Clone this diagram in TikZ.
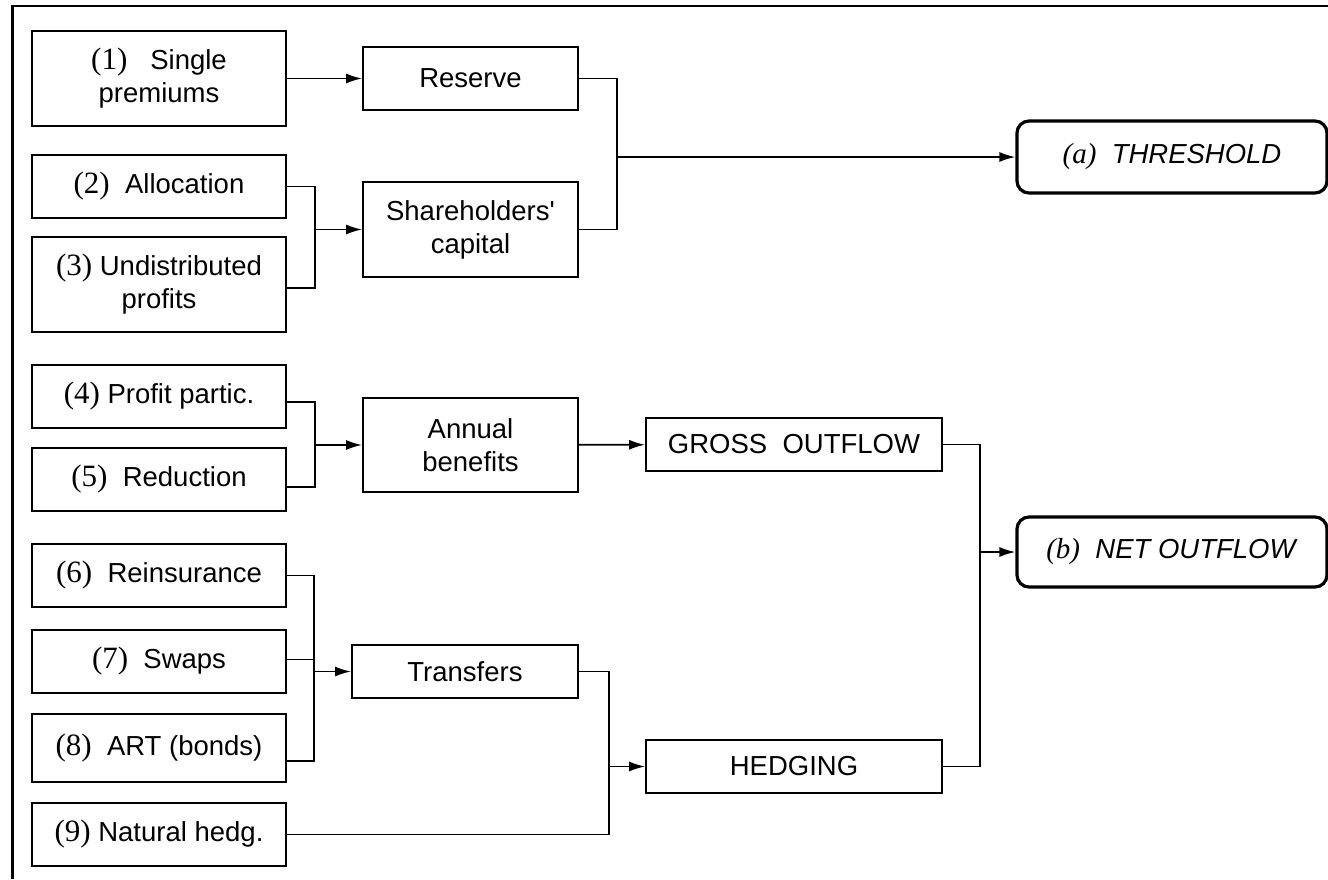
\documentclass[tikz,border=0pt]{standalone}
\usepackage{fontspec}
\setmainfont{Liberation Serif}
\setsansfont{Liberation Sans}
\usepackage{tikz}
\usetikzlibrary{arrows.meta,positioning,calc}
\newcommand{\itm}[1]{{\rmfamily\fontsize{15.5}{16.5}\selectfont(#1)}}
\tikzset{
  srcbox/.style={draw, line width=0.9pt, minimum width=127pt, align=center, inner sep=0pt}, % input boxes
  midbox/.style={draw, line width=0.9pt, minimum width=107.5pt, align=center, inner sep=0pt},
  flowbox/.style={draw, line width=0.9pt, minimum width=148pt, minimum height=26.5pt, inner sep=0pt},
  resbox/.style={draw, line width=1.6pt, rounded corners=6pt, minimum width=155pt, inner sep=0pt},
  link/.style={line width=0.85pt},
  arr/.style={link, -{Latex[length=8pt,width=5pt]}}
}
\begin{document}
\begin{tikzpicture}[x=0.5pt, y=-0.5pt, font=\sffamily\fontsize{13.75}{16.5}\selectfont]
        \useasboundingbox (0,0) rectangle (1328,879);

        % Frame
        \draw[line width=1.2pt] (1328,6) -- (12.5,6) -- (12.5,879);

        % Inputs
        \node[srcbox, minimum height=47.5pt] (single) at (159,78.5) {\itm{1}\ \ \ Single\\premiums};
        \node[srcbox, minimum height=31.5pt] (alloc) at (159,186.5) {\itm{2}\ \ Allocation};
        \node[srcbox, minimum height=47.5pt] (undist) at (159,284.5) {\itm{3} Undistributed\\profits};
        \node[srcbox, minimum height=31.5pt] (partic) at (159,396.5) {\itm{4} Profit partic.};
        \node[srcbox, minimum height=31.5pt] (reduct) at (159,479.5) {\itm{5}\ \ Reduction};
        \node[srcbox, minimum height=31.5pt] (reins) at (159,575.5) {\itm{6}\ \ Reinsurance};
        \node[srcbox, minimum height=31.5pt] (swaps) at (159,661.5) {\itm{7}\ \ Swaps};
        \node[srcbox, minimum height=34pt] (art) at (159,748) {\itm{8}\ \ ART (bonds)};
        \node[srcbox, minimum height=31.5pt] (natural) at (159,834.5) {\itm{9} Natural hedg.};

        % Intermediate boxes
        \node[midbox, minimum height=31.5pt] (reserve) at (470.5,78.5) {Reserve};
        \node[midbox, minimum height=47.5pt] (capital) at (470.5,229.5) {Shareholders\textquotesingle\\capital};
        \node[midbox, minimum height=47pt] (annual) at (470.5,445) {Annual\\benefits};
        \node[midbox, minimum width=113pt, minimum height=26.5pt] (transfers) at (465,671.5) {Transfers};
        \node[flowbox] (gross) at (794,444.5) {GROSS\ \ OUTFLOW};
        \node[flowbox] (hedging) at (794,766.5) {HEDGING};

        % Results
        \node[resbox, minimum height=36pt] (thresh) at (1172,157) {{\rmfamily\itshape\fontsize{14.5}{16.5}\selectfont(a)}\ \ \textit{THRESHOLD}};
        \node[resbox, minimum height=35pt] (net) at (1172,552) {{\rmfamily\itshape\fontsize{14.5}{16.5}\selectfont(b)}\ \ \textit{NET OUTFLOW}};

        % Junctions
        \coordinate (j1) at (315,229.5);
        \coordinate (j2) at (617,157);
        \coordinate (j3) at (315,445);
        \coordinate (j4) at (980,552);
        \coordinate (j5) at (314,671.5);
        \coordinate (j6) at (609,766.5);

        % Connectors
        \draw[arr] (single) -- (reserve);
        \draw[link] (alloc.east) -| (j1) |- ([yshift=-1.8pt]undist.east);
        \draw[arr] (j1) -- (capital);
        \draw[link] (reserve.east) -| (j2) |- (capital.east);
        \draw[arr] (j2) -- (thresh);
        \draw[link] ([yshift=-2.7pt]partic.east) -| (j3) |- ([yshift=-3.7pt]reduct.east);
        \draw[arr] (j3) -- (annual);
        \draw[arr] (annual) -- (gross);
        \draw[link] (gross.east) -| (j4) |- (hedging.east);
        \draw[arr] (j4) -- (net);
        \draw[link] (reins.east) -| (j5) |- ([yshift=-6.5pt]art.east);
        \draw[link] ([yshift=1pt]swaps.east) -- ([yshift=1pt]swaps.east -| j5);
        \draw[arr] (j5) -- (transfers);
        \draw[link] (transfers.east) -| (j6) |- (natural.east);
        \draw[arr] (j6) -- (hedging);
    \end{tikzpicture}
\end{document}
